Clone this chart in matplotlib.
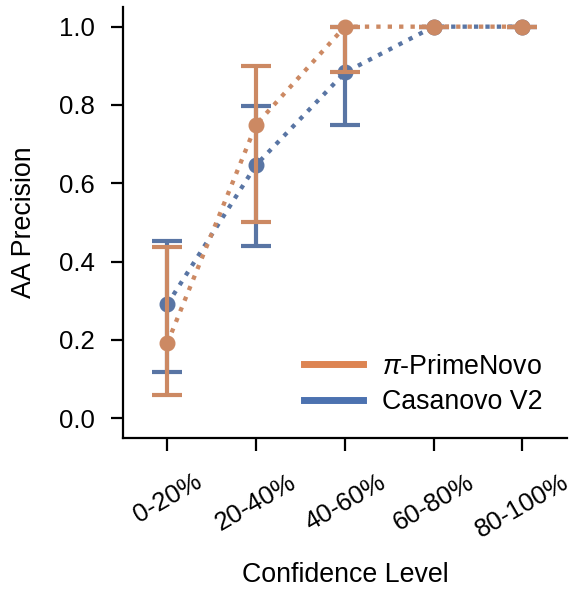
import matplotlib
matplotlib.use("Agg")
import matplotlib.pyplot as plt
import colorsys
from matplotlib.colors import to_rgb
from matplotlib.lines import Line2D

# Confidence bins and per-bin precision with interval bounds
categories = ["0-20%", "20-40%", "40-60%", "60-80%", "80-100%"]

primenovo_mean = [0.192, 0.75, 1.0, 1.0, 1.0]
primenovo_low = [0.059, 0.50, 0.883, 1.0, 1.0]
primenovo_high = [0.438, 0.90, 1.0, 1.0, 1.0]

casanovo_mean = [0.291, 0.647, 0.883, 1.0, 1.0]
casanovo_low = [0.117, 0.44, 0.749, 1.0, 1.0]
casanovo_high = [0.453, 0.798, 1.0, 1.0, 1.0]

series_names = [r"$\pi$-PrimeNovo", "Casanovo V2"]
base_colors = ["#dd8452", "#4c72b0"]
yticks = [0.0, 0.2, 0.4, 0.6, 0.8, 1.0]


def desaturate(color, prop):
    h, l, s = colorsys.rgb_to_hls(*to_rgb(color))
    return colorsys.hls_to_rgb(h, l, s * prop)


plt.rcParams["font.family"] = ["Liberation Sans", "DejaVu Sans"]
plt.rcParams["mathtext.fontset"] = "custom"
plt.rcParams["mathtext.it"] = "Liberation Sans:italic"

fig = plt.figure(figsize=(5.72, 5.9), dpi=100)
ax = fig.add_axes([0.215, 0.258, 0.776, 0.730])

x = list(range(len(categories)))
series = [
    (casanovo_mean, casanovo_low, casanovo_high, base_colors[1]),
    (primenovo_mean, primenovo_low, primenovo_high, base_colors[0]),
]
for z, (mean, low, high, col) in enumerate(series):
    c = desaturate(col, 0.75)
    yerr = [[m - lo for m, lo in zip(mean, low)], [hi - m for m, hi in zip(mean, high)]]
    ax.plot(x, mean, linestyle=":", color=c, lw=3.1, zorder=2 + z)
    ax.errorbar(x, mean, yerr=yerr, fmt="o", color=c, ms=10.5, elinewidth=3.0,
                capsize=11, capthick=3.0, zorder=2 + z)

ax.set_xlim(-0.5, 4.5)
ax.set_ylim(-0.05, 1.05)
ax.set_xticks(x)
ax.set_xticklabels(categories, rotation=30, ha="center")
ax.set_yticks(yticks)
ax.set_yticklabels([f"{v:.1f}" for v in yticks])

for side in ["top", "right"]:
    ax.spines[side].set_visible(False)
for side in ["left", "bottom"]:
    ax.spines[side].set_linewidth(1.6)
ax.tick_params(axis="both", length=9, width=1.6, labelsize=18.5)
ax.tick_params(axis="y", pad=11)
ax.tick_params(axis="x", pad=14)

ax.set_xlabel("Confidence Level", fontsize=19.3, labelpad=14)
ax.set_ylabel("AA Precision", fontsize=19.3, labelpad=16)

handles = [Line2D([0], [0], color=c, lw=5.0) for c in base_colors]
ax.legend(handles, series_names, loc="lower right", frameon=False, fontsize=19.3,
          handlelength=2.2, handletextpad=0.7, labelspacing=0.35,
          bbox_to_anchor=(1.0, -0.003))

fig.savefig("out.png", dpi=100)
